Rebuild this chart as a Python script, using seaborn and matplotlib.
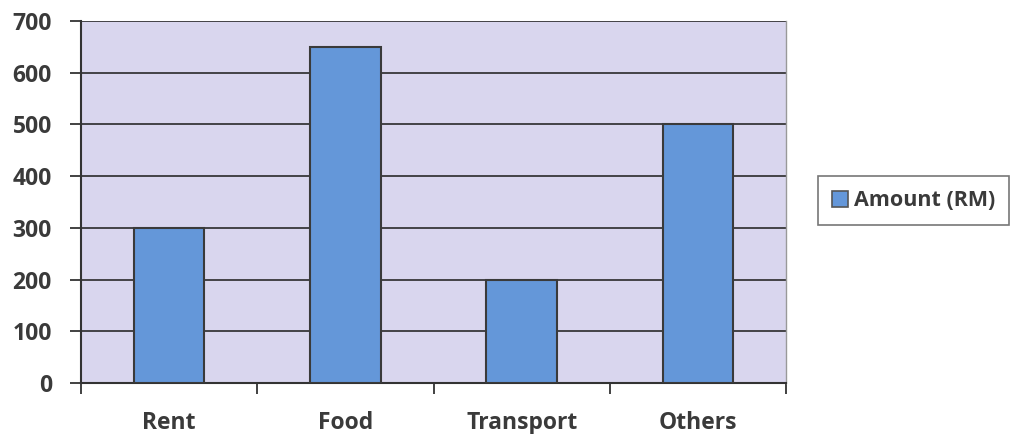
import matplotlib
matplotlib.use("Agg")
import matplotlib.pyplot as plt
import seaborn as sns
import pandas as pd
from matplotlib.patches import Patch

categories = ["Rent", "Food", "Transport", "Others"]
amounts = [300, 650, 200, 500]
yticks = [0, 100, 200, 300, 400, 500, 600, 700]
series_name = "Amount (RM)"

sns.set_style("white")
plt.rcParams['font.family'] = ['Open Sans', 'DejaVu Sans']

df = pd.DataFrame({"Category": categories, "Amount": amounts})

fig = plt.figure(figsize=(10.15, 4.34), dpi=100)
fig.patch.set_facecolor("white")
ax = fig.add_axes([0.0798, 0.1175, 0.6946, 0.834])

bar_color = "#6497D9"
sns.barplot(data=df, x="Category", y="Amount", ax=ax, color=bar_color,
            width=0.4, edgecolor="#3a3a3a", linewidth=1.5, saturation=1, zorder=3)

ax.set_facecolor("#D9D6EE")
ax.set_xlim(-0.5, len(categories) - 0.5)
ax.set_ylim(0, 700)
ax.set_yticks(yticks)
ax.set_yticklabels([str(v) for v in yticks], fontsize=16.5, fontweight="bold", color="#3a3a3a")
ax.set_xticks(range(len(categories)))
ax.set_xticklabels(categories, fontsize=16.5, fontweight="bold", color="#3a3a3a")
ax.set_xlabel("")
ax.set_ylabel("")

ax.set_xticks([i - 0.5 for i in range(len(categories) + 1)], minor=True)
ax.tick_params(axis="x", which="both", bottom=True)
ax.tick_params(axis="y", which="both", left=True)
ax.tick_params(axis="x", which="major", length=0, pad=20)
ax.tick_params(axis="x", which="minor", length=8, width=1.3, color="#333333", direction="out")
ax.tick_params(axis="y", which="major", length=8, width=1.3, color="#333333", direction="out", pad=13)

for y in yticks[1:]:
    ax.axhline(y, color="#2a2a2a", linewidth=1.2, zorder=1)

for side in ["left", "bottom"]:
    ax.spines[side].set_color("#333333")
    ax.spines[side].set_linewidth(1.5)
ax.spines["right"].set_color("#999999")
ax.spines["right"].set_linewidth(1.0)
ax.spines["top"].set_visible(False)

handle = Patch(facecolor=bar_color, edgecolor="#555555", linewidth=1.2, label=series_name)
leg = fig.legend(handles=[handle], loc="center", bbox_to_anchor=(0.9, 0.537),
                 frameon=True, fancybox=False, edgecolor="#555555",
                 prop={"size": 15.5, "weight": "bold"}, handlelength=0.75, handleheight=0.75,
                 handletextpad=0.25, borderpad=0.65, borderaxespad=0)
for t in leg.get_texts():
    t.set_color("#3a3a3a")
leg.get_frame().set_linewidth(1.2)

fig.savefig("out.png", dpi=100, facecolor="white")
